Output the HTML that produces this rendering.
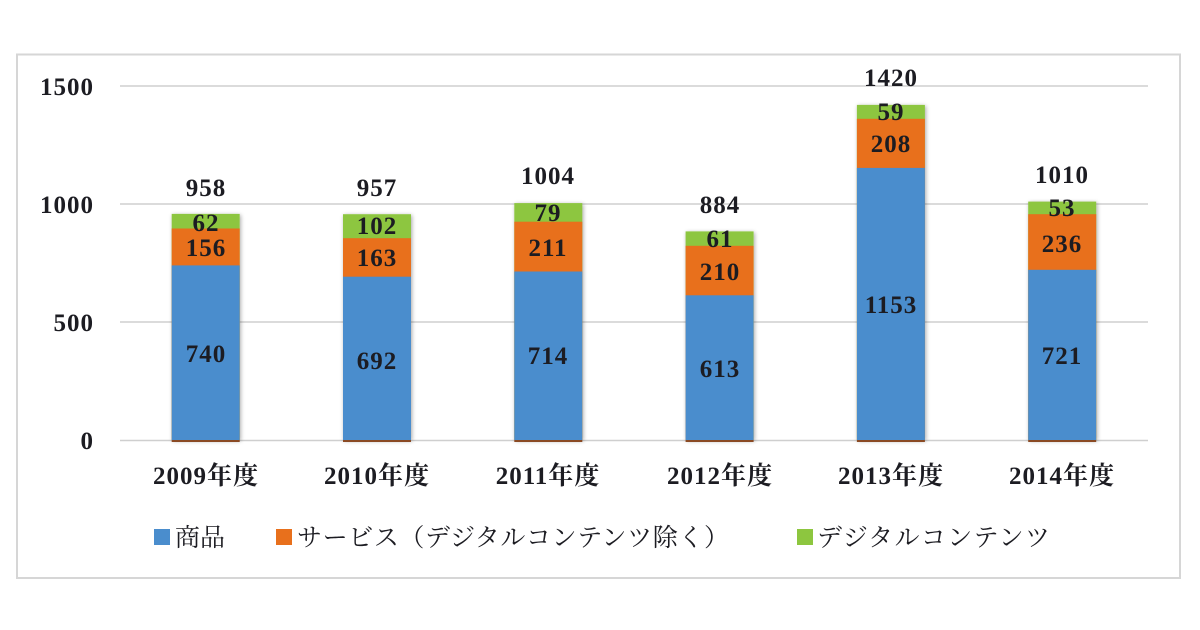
<!DOCTYPE html>
<html><head><meta charset="utf-8">
<style>
html,body{margin:0;padding:0;background:#fff;}
svg{display:block;}
.n{font-family:"Liberation Serif","Noto Serif CJK JP",serif;font-weight:bold;font-size:25px;fill:#1c1c22;letter-spacing:1px;}
.lg{font-family:"Liberation Serif","Noto Serif CJK JP",serif;font-size:25px;fill:#1c1c22;}
</style></head>
<body>
<svg width="1200" height="630" viewBox="0 0 1200 630" xmlns="http://www.w3.org/2000/svg">
<defs>
<filter id="sh" x="-20%" y="-5%" width="140%" height="110%">
<feGaussianBlur in="SourceAlpha" stdDeviation="2"/>
<feOffset dx="1" dy="1" result="b"/>
<feComponentTransfer><feFuncA type="linear" slope="0.35"/></feComponentTransfer>
<feMerge><feMergeNode/><feMergeNode in="SourceGraphic"/></feMerge>
</filter>
</defs>
<rect x="0" y="0" width="1200" height="630" fill="#fff"/>
<rect x="17" y="54.5" width="1163" height="523.5" fill="#fff" stroke="#d6d6d6" stroke-width="2"/>
<!-- gridlines -->
<g stroke="#cfcfcf" stroke-width="1.5">
<line x1="120" y1="86" x2="1148" y2="86"/>
<line x1="120" y1="204" x2="1148" y2="204"/>
<line x1="120" y1="322" x2="1148" y2="322"/>
<line x1="120" y1="440.5" x2="1148" y2="440.5"/>
</g>
<!-- y labels -->
<g class="n" text-anchor="end">
<text x="94" y="95">1500</text>
<text x="94" y="213">1000</text>
<text x="94" y="331">500</text>
<text x="94" y="449">0</text>
</g>
<!-- bars -->
<g filter="url(#sh)">
<rect x="171.7" y="213.9" width="68" height="226.1" fill="#8dc63f"/>
<rect x="343" y="214.2" width="68" height="225.8" fill="#8dc63f"/>
<rect x="514.3" y="203.1" width="68" height="236.9" fill="#8dc63f"/>
<rect x="685.6" y="231.4" width="68" height="208.6" fill="#8dc63f"/>
<rect x="856.9" y="104.9" width="68" height="335.1" fill="#8dc63f"/>
<rect x="1028.2" y="201.6" width="68" height="238.4" fill="#8dc63f"/>
</g>
<g fill="#e8701c">
<rect x="171.7" y="228.5" width="68" height="211.5"/>
<rect x="343" y="238.2" width="68" height="201.8"/>
<rect x="514.3" y="221.7" width="68" height="218.3"/>
<rect x="685.6" y="245.8" width="68" height="194.2"/>
<rect x="856.9" y="118.8" width="68" height="321.2"/>
<rect x="1028.2" y="214.2" width="68" height="225.8"/>
</g>
<g fill="#4a8dcd">
<rect x="171.7" y="265.4" width="68" height="174.6"/>
<rect x="343" y="276.7" width="68" height="163.3"/>
<rect x="514.3" y="271.5" width="68" height="168.5"/>
<rect x="685.6" y="295.3" width="68" height="144.7"/>
<rect x="856.9" y="167.9" width="68" height="272.1"/>
<rect x="1028.2" y="269.8" width="68" height="170.2"/>
</g>
<g fill="#8a4a24">
<rect x="171.7" y="440" width="68" height="2"/>
<rect x="343" y="440" width="68" height="2"/>
<rect x="514.3" y="440" width="68" height="2"/>
<rect x="685.6" y="440" width="68" height="2"/>
<rect x="856.9" y="440" width="68" height="2"/>
<rect x="1028.2" y="440" width="68" height="2"/>
</g>
<!-- segment labels -->
<g class="n" text-anchor="middle">
<text x="206" y="231">62</text>
<text x="206" y="256">156</text>
<text x="206" y="362">740</text>

<text x="377" y="234">102</text>
<text x="377" y="266">163</text>
<text x="377" y="369">692</text>

<text x="548" y="221">79</text>
<text x="548" y="256">211</text>
<text x="548" y="364">714</text>

<text x="720" y="247">61</text>
<text x="720" y="280">210</text>
<text x="720" y="377">613</text>

<text x="891" y="120">59</text>
<text x="891" y="152">208</text>
<text x="891" y="313">1153</text>

<text x="1062" y="216">53</text>
<text x="1062" y="252">236</text>
<text x="1062" y="364">721</text>
</g>
<!-- totals -->
<g class="n" text-anchor="middle">
<text x="206" y="196">958</text>
<text x="377" y="196">957</text>
<text x="548" y="184">1004</text>
<text x="720" y="213">884</text>
<text x="891" y="86">1420</text>
<text x="1062" y="183">1010</text>
</g>
<!-- x labels -->
<g class="n" text-anchor="middle">
<text x="206" y="484">2009年度</text>
<text x="377" y="484">2010年度</text>
<text x="548" y="484">2011年度</text>
<text x="720" y="484">2012年度</text>
<text x="891" y="484">2013年度</text>
<text x="1062" y="484">2014年度</text>
</g>
<!-- legend -->
<rect x="154" y="529" width="16" height="16" fill="#4a8dcd"/>
<text class="lg" x="175" y="546">商品</text>
<rect x="276" y="529" width="16" height="16" fill="#e8701c"/>
<text class="lg" x="297" y="546" textLength="432">サービス（デジタルコンテンツ除く）</text>
<rect x="797" y="529" width="16" height="16" fill="#8dc63f"/>
<text class="lg" x="817" y="546" textLength="233">デジタルコンテンツ</text>
</svg>
</body></html>
